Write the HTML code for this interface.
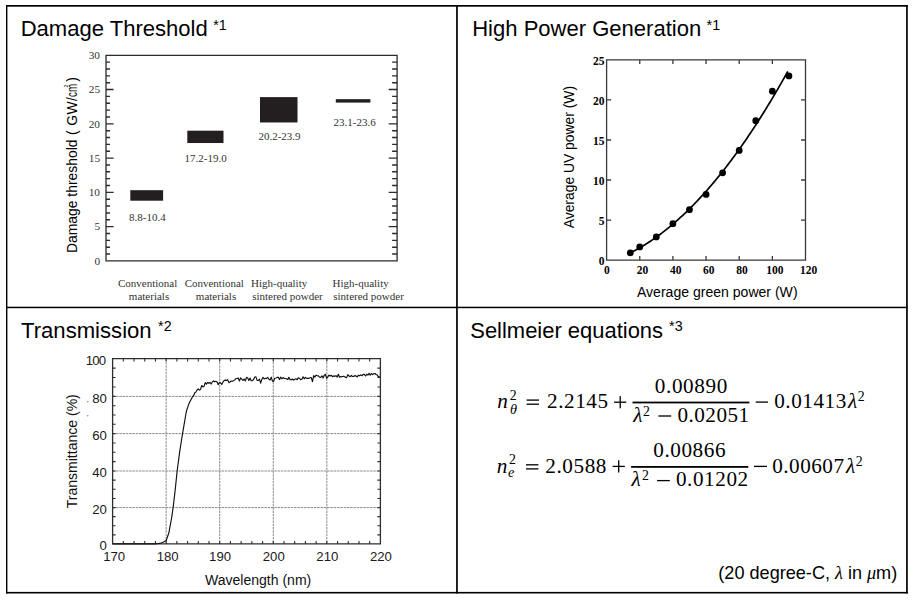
<!DOCTYPE html>
<html><head><meta charset="utf-8"><style>
html,body{margin:0;padding:0;background:#fff;width:915px;height:600px;overflow:hidden}
svg{display:block}
</style></head><body>
<svg width="915" height="600" viewBox="0 0 915 600">
<rect width="915" height="600" fill="#fff"/>
<rect x="6" y="5" width="901.8" height="1.7" fill="#000"/>
<rect x="6" y="591.9" width="901.8" height="1.6" fill="#000"/>
<rect x="6" y="5" width="1.4" height="588.5" fill="#000"/>
<rect x="906.1" y="5" width="1.7" height="588.5" fill="#000"/>
<rect x="456.1" y="5" width="1.7" height="588.5" fill="#000"/>
<rect x="6" y="306.7" width="901.8" height="1.5" fill="#000"/>
<text x="20.70" y="36.20" font-family="Liberation Sans, sans-serif" font-size="22.06" fill="#000">Damage Threshold</text>
<text x="213.17" y="29.50" font-family="Liberation Sans, sans-serif" font-size="14.3" fill="#000">*1</text>
<text x="472.21" y="36.25" font-family="Liberation Sans, sans-serif" font-size="22.04" fill="#000">High Power Generation</text>
<text x="706.57" y="29.50" font-family="Liberation Sans, sans-serif" font-size="14.3" fill="#000">*1</text>
<text x="21.01" y="338.00" font-family="Liberation Sans, sans-serif" font-size="22.12" fill="#000">Transmission</text>
<text x="158.11" y="331.25" font-family="Liberation Sans, sans-serif" font-size="14.3" fill="#000">*2</text>
<text x="470.24" y="337.90" font-family="Liberation Sans, sans-serif" font-size="21.96" fill="#000">Sellmeier equations</text>
<text x="669.07" y="331.25" font-family="Liberation Sans, sans-serif" font-size="14.3" fill="#000">*3</text>
<path d="M106.0 55.3H397.1V260.9H106.0Z" fill="none" stroke="#2b2b2b" stroke-width="1.3"/>
<path d="M106.0 254.05h4M397.1 254.05h-5M106.0 247.19h4M397.1 247.19h-5M106.0 240.34h4M397.1 240.34h-5M106.0 233.49h4M397.1 233.49h-5M106.0 226.63h7.6M397.1 226.63h-8.4M106.0 219.78h4M397.1 219.78h-5M106.0 212.93h4M397.1 212.93h-5M106.0 206.07h4M397.1 206.07h-5M106.0 199.22h4M397.1 199.22h-5M106.0 192.37h7.6M397.1 192.37h-8.4M106.0 185.51h4M397.1 185.51h-5M106.0 178.66h4M397.1 178.66h-5M106.0 171.81h4M397.1 171.81h-5M106.0 164.95h4M397.1 164.95h-5M106.0 158.10h7.6M397.1 158.10h-8.4M106.0 151.25h4M397.1 151.25h-5M106.0 144.39h4M397.1 144.39h-5M106.0 137.54h4M397.1 137.54h-5M106.0 130.69h4M397.1 130.69h-5M106.0 123.83h7.6M397.1 123.83h-8.4M106.0 116.98h4M397.1 116.98h-5M106.0 110.13h4M397.1 110.13h-5M106.0 103.27h4M397.1 103.27h-5M106.0 96.42h4M397.1 96.42h-5M106.0 89.57h7.6M397.1 89.57h-8.4M106.0 82.71h4M397.1 82.71h-5M106.0 75.86h4M397.1 75.86h-5M106.0 69.01h4M397.1 69.01h-5M106.0 62.15h4M397.1 62.15h-5" stroke="#2b2b2b" stroke-width="1.4"/>
<text x="94.38" y="264.60" font-family="Liberation Serif, serif" font-size="11.3" fill="#333">0</text>
<text x="94.39" y="230.33" font-family="Liberation Serif, serif" font-size="11.3" fill="#333">5</text>
<text x="88.73" y="196.07" font-family="Liberation Serif, serif" font-size="11.3" fill="#333">10</text>
<text x="88.74" y="161.80" font-family="Liberation Serif, serif" font-size="11.3" fill="#333">15</text>
<text x="88.73" y="127.53" font-family="Liberation Serif, serif" font-size="11.3" fill="#333">20</text>
<text x="88.74" y="93.27" font-family="Liberation Serif, serif" font-size="11.3" fill="#333">25</text>
<text x="88.73" y="59.00" font-family="Liberation Serif, serif" font-size="11.3" fill="#333">30</text>
<rect x="130.3" y="190.20" width="32.80" height="10.50" fill="#231f20"/>
<text x="129.04" y="221.00" font-family="Liberation Serif, serif" font-size="11" fill="#333">8.8-10.4</text>
<rect x="187.3" y="130.69" width="36.20" height="12.34" fill="#231f20"/>
<text x="184.59" y="162.00" font-family="Liberation Serif, serif" font-size="11" fill="#333">17.2-19.0</text>
<rect x="260" y="97.11" width="37.50" height="25.36" fill="#231f20"/>
<text x="258.40" y="139.90" font-family="Liberation Serif, serif" font-size="11" fill="#333">20.2-23.9</text>
<rect x="335.8" y="99.16" width="34.60" height="3.43" fill="#231f20"/>
<text x="333.59" y="125.70" font-family="Liberation Serif, serif" font-size="11" fill="#333">23.1-23.6</text>
<text x="117.95" y="286.80" font-family="Liberation Serif, serif" font-size="11" fill="#333">Conventional</text>
<text x="128.87" y="299.80" font-family="Liberation Serif, serif" font-size="11" fill="#333">materials</text>
<text x="184.65" y="286.80" font-family="Liberation Serif, serif" font-size="11" fill="#333">Conventional</text>
<text x="195.87" y="299.80" font-family="Liberation Serif, serif" font-size="11" fill="#333">materials</text>
<text x="250.98" y="286.60" font-family="Liberation Serif, serif" font-size="11" fill="#333">High-quality</text>
<text x="252.15" y="299.50" font-family="Liberation Serif, serif" font-size="11" fill="#333">sintered powder</text>
<text x="332.48" y="286.60" font-family="Liberation Serif, serif" font-size="11" fill="#333">High-quality</text>
<text x="333.25" y="299.50" font-family="Liberation Serif, serif" font-size="11" fill="#333">sintered powder</text>
<g transform="translate(77 251.9) rotate(-90)"><text x="-1.14" y="0" font-family="Liberation Sans, sans-serif" font-size="13.9" letter-spacing="-0.003" fill="#000">Damage threshold</text><text x="116.84" y="0" font-family="Liberation Sans, sans-serif" font-size="13.9" letter-spacing="0.445" fill="#000">( GW/</text><text transform="translate(154.88 0) scale(0.705 1)" x="0" y="0" font-family="Liberation Sans, sans-serif" font-size="13.9" fill="#000">cm</text><text x="164.34" y="-9.0" font-family="Liberation Sans, sans-serif" font-size="5.2" fill="#000">2</text><text x="170.12" y="0" font-family="Liberation Sans, sans-serif" font-size="13.9" fill="#000">)</text></g>
<path d="M606.6 59.9H805.5V260.1H606.6Z" fill="none" stroke="#3a3a3a" stroke-width="1.3"/>
<path d="M639.75 260.1v-4.2M639.75 59.9v4.2M672.90 260.1v-4.2M672.90 59.9v4.2M706.05 260.1v-4.2M706.05 59.9v4.2M739.20 260.1v-4.2M739.20 59.9v4.2M772.35 260.1v-4.2M772.35 59.9v4.2M606.6 220.06h4.5M805.5 220.06h-4.5M606.6 180.02h4.5M805.5 180.02h-4.5M606.6 139.98h4.5M805.5 139.98h-4.5M606.6 99.94h4.5M805.5 99.94h-4.5" stroke="#3a3a3a" stroke-width="1.3"/>
<text x="598.79" y="265.10" font-family="Liberation Serif, serif" font-size="11.5" font-weight="bold" fill="#000">0</text>
<text x="598.77" y="225.06" font-family="Liberation Serif, serif" font-size="11.5" font-weight="bold" fill="#000">5</text>
<text x="593.04" y="185.02" font-family="Liberation Serif, serif" font-size="11.5" font-weight="bold" fill="#000">10</text>
<text x="593.02" y="144.98" font-family="Liberation Serif, serif" font-size="11.5" font-weight="bold" fill="#000">15</text>
<text x="593.04" y="104.94" font-family="Liberation Serif, serif" font-size="11.5" font-weight="bold" fill="#000">20</text>
<text x="593.02" y="64.90" font-family="Liberation Serif, serif" font-size="11.5" font-weight="bold" fill="#000">25</text>
<text x="603.93" y="273.75" font-family="Liberation Serif, serif" font-size="11.5" font-weight="bold" fill="#000">0</text>
<text x="636.73" y="273.75" font-family="Liberation Serif, serif" font-size="11.5" font-weight="bold" fill="#000">20</text>
<text x="670.04" y="273.75" font-family="Liberation Serif, serif" font-size="11.5" font-weight="bold" fill="#000">40</text>
<text x="703.07" y="273.75" font-family="Liberation Serif, serif" font-size="11.5" font-weight="bold" fill="#000">60</text>
<text x="736.23" y="273.75" font-family="Liberation Serif, serif" font-size="11.5" font-weight="bold" fill="#000">80</text>
<text x="766.23" y="273.75" font-family="Liberation Serif, serif" font-size="11.5" font-weight="bold" fill="#000">100</text>
<text x="800.03" y="273.75" font-family="Liberation Serif, serif" font-size="11.5" font-weight="bold" fill="#000">120</text>
<polyline points="630.30 252.92 631.88 252.12 633.45 251.30 635.03 250.46 636.60 249.61 638.18 248.73 639.75 247.83 641.32 246.91 642.90 245.97 644.47 245.01 646.05 244.02 647.62 243.02 649.20 242.00 650.77 240.95 652.35 239.89 653.92 238.81 655.50 237.70 657.07 236.57 658.65 235.43 660.22 234.26 661.79 233.07 663.37 231.87 664.94 230.64 666.52 229.39 668.09 228.12 669.67 226.83 671.24 225.52 672.82 224.19 674.39 222.83 675.97 221.46 677.54 220.07 679.12 218.65 680.69 217.22 682.26 215.76 683.84 214.29 685.41 212.79 686.99 211.28 688.56 209.74 690.14 208.18 691.71 206.60 693.29 205.00 694.86 203.38 696.44 201.74 698.01 200.08 699.59 198.40 701.16 196.70 702.74 194.98 704.31 193.24 705.88 191.47 707.46 189.69 709.03 187.88 710.61 186.06 712.18 184.21 713.76 182.35 715.33 180.46 716.91 178.55 718.48 176.62 720.06 174.67 721.63 172.71 723.21 170.72 724.78 168.71 726.35 166.67 727.93 164.62 729.50 162.55 731.08 160.46 732.65 158.34 734.23 156.21 735.80 154.06 737.38 151.88 738.95 149.69 740.53 147.47 742.10 145.23 743.68 142.98 745.25 140.70 746.82 138.40 748.40 136.08 749.97 133.74 751.55 131.38 753.12 129.00 754.70 126.60 756.27 124.18 757.85 121.73 759.42 119.27 761.00 116.79 762.57 114.28 764.15 111.76 765.72 109.21 767.29 106.65 768.87 104.06 770.44 101.45 772.02 98.83 773.59 96.18 775.17 93.51 776.74 90.82 778.32 88.11 779.89 85.38 781.47 82.63 783.04 79.86 784.62 77.07 786.19 74.25 787.76 71.42" fill="none" stroke="#000" stroke-width="1.7"/>
<circle cx="630.30" cy="252.89" r="3.4" fill="#000"/>
<circle cx="639.75" cy="246.89" r="3.4" fill="#000"/>
<circle cx="656.33" cy="236.88" r="3.4" fill="#000"/>
<circle cx="672.90" cy="223.66" r="3.4" fill="#000"/>
<circle cx="689.48" cy="209.65" r="3.4" fill="#000"/>
<circle cx="706.05" cy="194.43" r="3.4" fill="#000"/>
<circle cx="722.62" cy="172.81" r="3.4" fill="#000"/>
<circle cx="739.20" cy="150.39" r="3.4" fill="#000"/>
<circle cx="755.77" cy="120.76" r="3.4" fill="#000"/>
<circle cx="772.35" cy="91.13" r="3.4" fill="#000"/>
<circle cx="788.92" cy="75.92" r="3.4" fill="#000"/>
<text transform="translate(573.6 228.3) rotate(-90)" x="-0.03" y="0" font-family="Liberation Sans, sans-serif" font-size="13.88" fill="#000">Average UV power (W)</text>
<text x="636.99" y="296.60" font-family="Liberation Sans, sans-serif" font-size="14.05" fill="#000">Average green power (W)</text>
<path d="M166.16 358.7V543.9M219.72 358.7V543.9M273.28 358.7V543.9M326.84 358.7V543.9M112.6 507.60H380.4M112.6 471.00H380.4M112.6 433.60H380.4M112.6 396.40H380.4" stroke="#8a8a8a" stroke-width="1" stroke-dasharray="2.5 0.8"/>
<path d="M112.6 358.7H380.4V543.9H112.6Z" fill="none" stroke="#2e2e2e" stroke-width="1.3"/>
<path d="M123.31 543.9v-2.8M123.31 358.7v2.8M134.02 543.9v-2.8M134.02 358.7v2.8M144.74 543.9v-2.8M144.74 358.7v2.8M155.45 543.9v-2.8M155.45 358.7v2.8M166.16 543.9v-2.8M166.16 358.7v2.8M176.87 543.9v-2.8M176.87 358.7v2.8M187.58 543.9v-2.8M187.58 358.7v2.8M198.30 543.9v-2.8M198.30 358.7v2.8M209.01 543.9v-2.8M209.01 358.7v2.8M219.72 543.9v-2.8M219.72 358.7v2.8M230.43 543.9v-2.8M230.43 358.7v2.8M241.14 543.9v-2.8M241.14 358.7v2.8M251.86 543.9v-2.8M251.86 358.7v2.8M262.57 543.9v-2.8M262.57 358.7v2.8M273.28 543.9v-2.8M273.28 358.7v2.8M283.99 543.9v-2.8M283.99 358.7v2.8M294.70 543.9v-2.8M294.70 358.7v2.8M305.42 543.9v-2.8M305.42 358.7v2.8M316.13 543.9v-2.8M316.13 358.7v2.8M326.84 543.9v-2.8M326.84 358.7v2.8M337.55 543.9v-2.8M337.55 358.7v2.8M348.26 543.9v-2.8M348.26 358.7v2.8M358.98 543.9v-2.8M358.98 358.7v2.8M369.69 543.9v-2.8M369.69 358.7v2.8M112.6 534.83h3M380.4 534.83h-3M112.6 525.75h3M380.4 525.75h-3M112.6 516.67h3M380.4 516.67h-3M112.6 507.60h3M380.4 507.60h-3M112.6 498.45h3M380.4 498.45h-3M112.6 489.30h3M380.4 489.30h-3M112.6 480.15h3M380.4 480.15h-3M112.6 471.00h3M380.4 471.00h-3M112.6 461.65h3M380.4 461.65h-3M112.6 452.30h3M380.4 452.30h-3M112.6 442.95h3M380.4 442.95h-3M112.6 433.60h3M380.4 433.60h-3M112.6 424.30h3M380.4 424.30h-3M112.6 415.00h3M380.4 415.00h-3M112.6 405.70h3M380.4 405.70h-3M112.6 396.40h3M380.4 396.40h-3M112.6 386.97h3M380.4 386.97h-3M112.6 377.55h3M380.4 377.55h-3M112.6 368.12h3M380.4 368.12h-3" stroke="#2e2e2e" stroke-width="1.1"/>
<text x="99.57" y="550.20" font-family="Liberation Sans, sans-serif" font-size="13.2" fill="#1a1a1a">0</text>
<text x="92.23" y="513.90" font-family="Liberation Sans, sans-serif" font-size="13.2" fill="#1a1a1a">20</text>
<text x="92.23" y="477.30" font-family="Liberation Sans, sans-serif" font-size="13.2" fill="#1a1a1a">40</text>
<text x="92.23" y="439.90" font-family="Liberation Sans, sans-serif" font-size="13.2" fill="#1a1a1a">60</text>
<text x="92.23" y="402.70" font-family="Liberation Sans, sans-serif" font-size="13.2" fill="#1a1a1a">80</text>
<text x="85.79" y="365.00" font-family="Liberation Sans, sans-serif" font-size="13.2" letter-spacing="-0.801" fill="#1a1a1a">100</text>
<circle cx="87.75" cy="401.75" r="0.8" fill="#888"/><circle cx="87.75" cy="415.75" r="0.8" fill="#888"/>
<text x="103.14" y="560.50" font-family="Liberation Sans, sans-serif" font-size="13.2" fill="#1a1a1a">170</text>
<text x="156.70" y="560.50" font-family="Liberation Sans, sans-serif" font-size="13.2" fill="#1a1a1a">180</text>
<text x="209.06" y="560.50" font-family="Liberation Sans, sans-serif" font-size="13.2" fill="#1a1a1a">190</text>
<text x="262.79" y="560.50" font-family="Liberation Sans, sans-serif" font-size="13.2" fill="#1a1a1a">200</text>
<text x="316.35" y="560.50" font-family="Liberation Sans, sans-serif" font-size="13.2" fill="#1a1a1a">210</text>
<text x="369.91" y="560.50" font-family="Liberation Sans, sans-serif" font-size="13.2" fill="#1a1a1a">220</text>
<polyline points="112.60 543.90 113.14 543.90 113.67 543.90 114.21 543.90 114.74 543.90 115.28 543.90 115.81 543.90 116.35 543.90 116.88 543.90 117.42 543.90 117.96 543.90 118.49 543.90 119.03 543.90 119.56 543.90 120.10 543.90 120.63 543.90 121.17 543.90 121.71 543.90 122.24 543.90 122.78 543.90 123.31 543.90 123.85 543.90 124.38 543.90 124.92 543.90 125.45 543.90 125.99 543.90 126.53 543.90 127.06 543.90 127.60 543.90 128.13 543.90 128.67 543.90 129.20 543.90 129.74 543.90 130.27 543.90 130.81 543.90 131.35 543.90 131.88 543.90 132.42 543.90 132.95 543.90 133.49 543.90 134.02 543.90 134.56 543.90 135.10 543.90 135.63 543.90 136.17 543.90 136.70 543.90 137.24 543.90 137.77 543.90 138.31 543.90 138.84 543.90 139.38 543.90 139.92 543.90 140.45 543.90 140.99 543.90 141.52 543.90 142.06 543.90 142.59 543.90 143.13 543.90 143.66 543.90 144.20 543.90 144.74 543.90 145.27 543.90 145.81 543.90 146.34 543.90 146.88 543.90 147.41 543.90 147.95 543.90 148.49 543.90 149.02 543.90 149.56 543.90 150.09 543.90 150.63 543.90 151.16 543.90 151.70 543.90 152.23 543.90 152.77 543.90 153.31 543.90 153.84 543.90 154.38 543.90 154.91 543.90 155.45 543.90 155.98 543.83 156.52 543.75 157.05 543.68 157.59 543.61 158.13 543.54 158.66 543.46 159.20 543.39 159.73 543.32 160.27 543.25 160.80 543.17 161.34 542.96 161.88 542.74 162.41 542.52 162.95 542.30 163.48 542.09 164.02 541.76 164.55 541.43 165.09 541.10 165.62 540.78 166.16 540.45 166.70 538.96 167.23 537.47 167.77 535.99 168.30 534.50 168.84 533.01 169.37 530.11 169.91 527.20 170.44 524.30 170.98 521.39 171.52 518.49 172.05 514.86 172.59 511.23 173.12 507.60 173.66 503.03 174.19 498.45 174.73 493.88 175.27 489.30 175.80 484.07 176.34 478.84 176.87 473.61 177.41 468.98 177.94 464.95 178.48 460.92 179.01 456.88 179.55 452.85 180.09 449.08 180.62 445.72 181.16 442.35 181.69 438.99 182.23 435.62 182.76 432.34 183.30 429.20 183.83 426.06 184.37 422.91 184.91 419.77 185.44 416.62 185.98 413.48 186.51 410.81 187.05 409.23 187.58 407.65 188.12 406.07 188.66 404.49 189.19 402.91 189.73 401.92 190.26 400.94 190.80 399.95 191.33 398.96 191.87 397.98 192.40 396.99 192.94 396.05 193.48 396.15 194.65 393.05 195.83 392.09 197.01 390.08 198.19 388.87 199.37 390.08 200.55 389.41 201.72 385.47 202.90 386.91 204.08 386.26 205.26 382.66 206.44 384.20 207.62 382.39 208.79 383.31 209.97 382.43 211.15 384.02 212.33 381.93 213.51 380.79 214.69 381.83 215.86 381.33 217.04 382.00 218.22 384.70 219.40 382.50 220.58 382.84 221.76 384.40 222.93 382.18 224.11 380.46 225.29 380.11 226.47 380.37 227.65 379.68 228.83 382.65 230.00 382.01 231.18 381.00 232.36 381.32 233.54 380.81 234.72 379.87 235.90 378.55 237.07 378.34 238.25 377.99 239.43 381.00 240.61 377.86 241.79 379.24 242.97 380.47 244.14 378.99 245.32 380.86 246.50 377.32 247.68 377.99 248.86 380.39 250.03 378.02 251.21 380.71 252.39 380.66 253.57 379.54 254.75 377.04 255.93 376.93 257.10 380.36 258.28 380.49 259.46 379.03 260.64 383.16 261.82 379.45 263.00 377.28 264.17 378.96 265.35 378.30 266.53 378.65 267.71 377.25 268.89 379.20 270.07 379.96 271.24 377.20 272.42 381.14 273.60 381.35 274.78 378.22 275.96 377.98 277.14 377.52 278.31 377.15 279.49 379.55 280.67 377.13 281.85 378.78 283.03 377.54 284.21 378.45 285.38 378.47 286.56 378.78 287.74 379.63 288.92 377.28 290.10 379.76 291.28 379.80 292.45 378.98 293.63 380.16 294.81 379.21 295.99 378.74 297.17 379.68 298.35 377.79 299.52 378.46 300.70 379.63 301.88 379.29 303.06 376.77 304.24 378.80 305.42 377.34 306.59 378.33 307.77 378.41 308.95 378.37 310.13 377.70 311.31 377.61 312.49 381.73 313.66 375.59 314.84 377.15 316.02 375.17 317.20 375.73 318.38 375.92 319.56 377.21 320.73 377.32 321.91 375.84 323.09 378.09 324.27 375.20 325.45 374.31 326.63 378.31 327.80 376.92 328.98 375.08 330.16 376.04 331.34 375.31 332.52 376.69 333.70 375.86 334.87 376.35 336.05 375.68 337.23 377.07 338.41 374.26 339.59 377.34 340.77 376.54 341.94 376.77 343.12 376.21 344.30 376.51 345.48 377.36 346.66 377.60 347.84 374.66 349.01 376.00 350.19 376.73 351.37 375.46 352.55 376.45 353.73 376.49 354.91 375.55 356.08 376.13 357.26 376.81 358.44 375.12 359.62 375.88 360.80 374.88 361.98 375.75 363.15 374.42 364.33 374.37 365.51 375.98 366.69 374.20 367.87 375.13 369.05 373.34 370.22 375.16 371.40 373.51 372.58 374.70 373.76 373.58 374.94 373.50 376.12 374.52 377.29 375.10 378.47 376.98 379.65 376.38" fill="none" stroke="#111" stroke-width="1.15" stroke-linejoin="round"/>
<text x="204.96" y="584.80" font-family="Liberation Sans, sans-serif" font-size="14.04" fill="#111">Wavelength (nm)</text>
<text transform="translate(76.8 508) rotate(-90)" x="-0.32" y="0" font-family="Liberation Sans, sans-serif" font-size="14.04" fill="#111">Transmittance (%)</text>
<text x="497.34" y="408.00" font-family="Liberation Serif, serif" font-size="21.2" font-style="italic" fill="#000">n</text>
<text x="509.63" y="399.70" font-family="Liberation Serif, serif" font-size="13.8" fill="#000">2</text>
<text x="509.91" y="413.70" font-family="Liberation Serif, serif" font-size="14.3" font-style="italic" fill="#000">θ</text>
<rect x="526.60" y="399.45" width="12.40" height="1.3" fill="#000"/>
<rect x="526.60" y="403.55" width="12.40" height="1.3" fill="#000"/>
<text x="547.07" y="408.10" font-family="Liberation Serif, serif" font-size="21.2" letter-spacing="0.552" fill="#000">2.2145</text>
<rect x="614.10" y="401.55" width="12.20" height="1.3" fill="#000"/>
<rect x="619.55" y="396.10" width="1.3" height="12.20" fill="#000"/>
<rect x="632.50" y="401.60" width="116.90" height="1.8" fill="#000"/>
<text x="654.79" y="392.70" font-family="Liberation Serif, serif" font-size="21.2" letter-spacing="0.619" fill="#000">0.00890</text>
<text x="633.32" y="421.90" font-family="Liberation Serif, serif" font-size="21.2" font-style="italic" fill="#000">λ</text>
<text x="642.98" y="415.70" font-family="Liberation Serif, serif" font-size="13.8" fill="#000">2</text>
<rect x="658.40" y="415.35" width="12.80" height="1.3" fill="#000"/>
<text x="677.49" y="421.70" font-family="Liberation Serif, serif" font-size="21.2" letter-spacing="0.463" fill="#000">0.02051</text>
<rect x="755.75" y="401.45" width="12.25" height="1.3" fill="#000"/>
<text x="774.19" y="408.20" font-family="Liberation Serif, serif" font-size="21.2" letter-spacing="0.539" fill="#000">0.01413</text>
<text x="848.02" y="408.00" font-family="Liberation Serif, serif" font-size="21.2" font-style="italic" fill="#000">λ</text>
<text x="857.83" y="400.70" font-family="Liberation Serif, serif" font-size="13.8" fill="#000">2</text>
<text x="496.74" y="472.70" font-family="Liberation Serif, serif" font-size="21.2" font-style="italic" fill="#000">n</text>
<text x="509.03" y="464.40" font-family="Liberation Serif, serif" font-size="13.8" fill="#000">2</text>
<text x="508.07" y="476.80" font-family="Liberation Serif, serif" font-size="14.3" font-style="italic" fill="#000">e</text>
<rect x="526.00" y="464.15" width="12.40" height="1.3" fill="#000"/>
<rect x="526.00" y="468.25" width="12.40" height="1.3" fill="#000"/>
<text x="545.37" y="472.60" font-family="Liberation Serif, serif" font-size="21.2" letter-spacing="0.548" fill="#000">2.0588</text>
<rect x="612.60" y="465.75" width="12.20" height="1.3" fill="#000"/>
<rect x="618.05" y="460.30" width="1.3" height="12.20" fill="#000"/>
<rect x="631.10" y="466.00" width="117.20" height="1.8" fill="#000"/>
<text x="653.29" y="456.50" font-family="Liberation Serif, serif" font-size="21.2" letter-spacing="0.556" fill="#000">0.00866</text>
<text x="631.62" y="486.40" font-family="Liberation Serif, serif" font-size="21.2" font-style="italic" fill="#000">λ</text>
<text x="641.88" y="480.30" font-family="Liberation Serif, serif" font-size="13.8" fill="#000">2</text>
<rect x="657.10" y="479.95" width="12.70" height="1.3" fill="#000"/>
<text x="675.89" y="486.20" font-family="Liberation Serif, serif" font-size="21.2" letter-spacing="0.580" fill="#000">0.01202</text>
<rect x="754.00" y="465.75" width="13.00" height="1.3" fill="#000"/>
<text x="772.19" y="473.00" font-family="Liberation Serif, serif" font-size="21.2" letter-spacing="0.503" fill="#000">0.00607</text>
<text x="846.02" y="472.80" font-family="Liberation Serif, serif" font-size="21.2" font-style="italic" fill="#000">λ</text>
<text x="855.83" y="465.50" font-family="Liberation Serif, serif" font-size="13.8" fill="#000">2</text>
<text x="0" y="579.1" font-family="Liberation Sans, sans-serif" font-size="18.1" fill="#000" text-anchor="end" transform="translate(897.2 0)">(20 degree-C, <tspan font-family="Liberation Serif, serif" font-style="italic">&#955;</tspan> in <tspan font-family="Liberation Serif, serif" font-style="italic">&#956;</tspan>m)</text>
</svg>
</body></html>
